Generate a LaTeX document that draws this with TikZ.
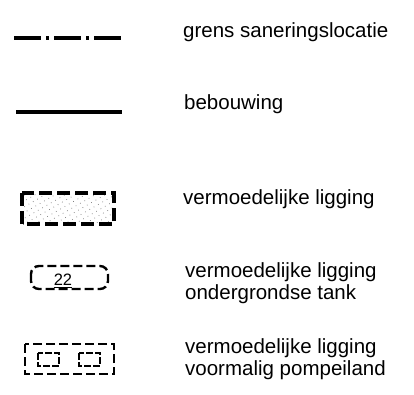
\documentclass[tikz,border=0pt]{standalone}
\usepackage{fontspec}
\setmainfont{Liberation Sans}
\usetikzlibrary{patterns.meta}

\begin{document}
\begin{tikzpicture}[
    x=1pt, y=-1pt,
    every node/.style={font=\fontsize{20.5}{22}\selectfont, inner sep=0pt},
    lbl/.style={anchor=base west, align=left},
    grens/.style={line width=3.6pt, dash pattern=on 27pt off 5pt on 3pt off 5pt},
    bebouw/.style={line width=3.4pt},
    vermoed/.style={line width=3.2pt, dash pattern=on 13pt off 5pt,
                    pattern={Dots[radius=0.5pt, distance=5pt, angle=30]}, pattern color=black!55},
    tank/.style={line width=2.4pt, dash pattern=on 9pt off 4pt, rounded corners=8pt},
    pomp/.style={line width=2.2pt, dash pattern=on 9pt off 4pt},
    eiland/.style={line width=2.6pt, dash pattern=on 7pt off 2pt},
]
\useasboundingbox (0,0) rectangle (414,394);

% ================================================================ symbols
\draw[grens] (14,38) -- (121,38);
\draw[bebouw] (16,112) -- (122,112);

\draw[vermoed] (22,193) rectangle (114,224);

\draw[tank] (31,266) rectangle (108,289);
\node[font=\fontsize{16.5}{18}\selectfont] (nr) at (63,281) {\underline{22}};

\draw[pomp] (25,344) rectangle (114,374);
\foreach \x in {38,79}{
    \draw[eiland] (\x,353) rectangle (\x+21,366);
}

% ================================================================ labels
% (multi-line labels sit on the baseline of their last line)
\node[lbl] (t1) at (183,37) {grens saneringslocatie};
\node[lbl] (t2) at (184,109) {bebouwing};
\node[lbl] (t3) at (183,204) {vermoedelijke ligging};
\node[lbl] (t4) at (185,299) {vermoedelijke ligging\\ondergrondse tank};
\node[lbl] (t5) at (185,375) {vermoedelijke ligging\\voormalig pompeiland};

\end{tikzpicture}
\end{document}
